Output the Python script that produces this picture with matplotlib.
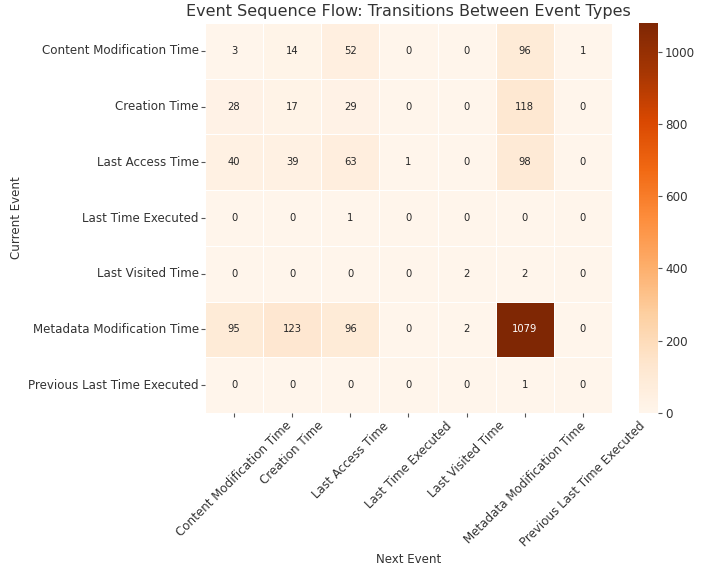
import matplotlib
matplotlib.use("Agg")
import matplotlib.pyplot as plt
import seaborn as sns
import numpy as np
import pandas as pd

events = ["Content Modification Time", "Creation Time", "Last Access Time",
          "Last Time Executed", "Last Visited Time", "Metadata Modification Time",
          "Previous Last Time Executed"]

row_cmt = [3, 14, 52, 0, 0, 96, 1]
row_ct = [28, 17, 29, 0, 0, 118, 0]
row_lat = [40, 39, 63, 1, 0, 98, 0]
row_lte = [0, 0, 1, 0, 0, 0, 0]
row_lvt = [0, 0, 0, 0, 2, 2, 0]
row_mmt = [95, 123, 96, 0, 2, 1079, 0]
row_plte = [0, 0, 0, 0, 0, 1, 0]

df = pd.DataFrame([row_cmt, row_ct, row_lat, row_lte, row_lvt, row_mmt, row_plte],
                  index=events, columns=events)

fig = plt.figure(figsize=(7.08, 5.67), dpi=100)
ax = fig.add_axes([0.2895, 0.2716, 0.5749, 0.6878])
cax = fig.add_axes([0.9025, 0.2716, 0.027, 0.6878])

sns.heatmap(df, annot=True, fmt="d", cmap="Oranges", linewidths=0.5, linecolor="white",
            ax=ax, cbar_ax=cax, annot_kws={"fontsize": 7.2})
ax.set_title("Event Sequence Flow: Transitions Between Event Types", fontsize=11.5,
             color="#333333", pad=5)
ax.set_xlabel("Next Event", fontsize=8.6, color="#333333", labelpad=3)
ax.set_ylabel("Current Event", fontsize=8.6, color="#333333")
ax.tick_params(axis="both", labelsize=8.6, colors="#333333", length=3, pad=1.5,
               color="#555555")
plt.setp(ax.get_xticklabels(), rotation=45)
plt.setp(ax.get_yticklabels(), rotation=0)
cax.tick_params(labelsize=8.6, colors="#333333", length=3, pad=2, color="#555555")
for s in cax.spines.values():
    s.set_visible(False)

fig.savefig("out.png", dpi=100)
